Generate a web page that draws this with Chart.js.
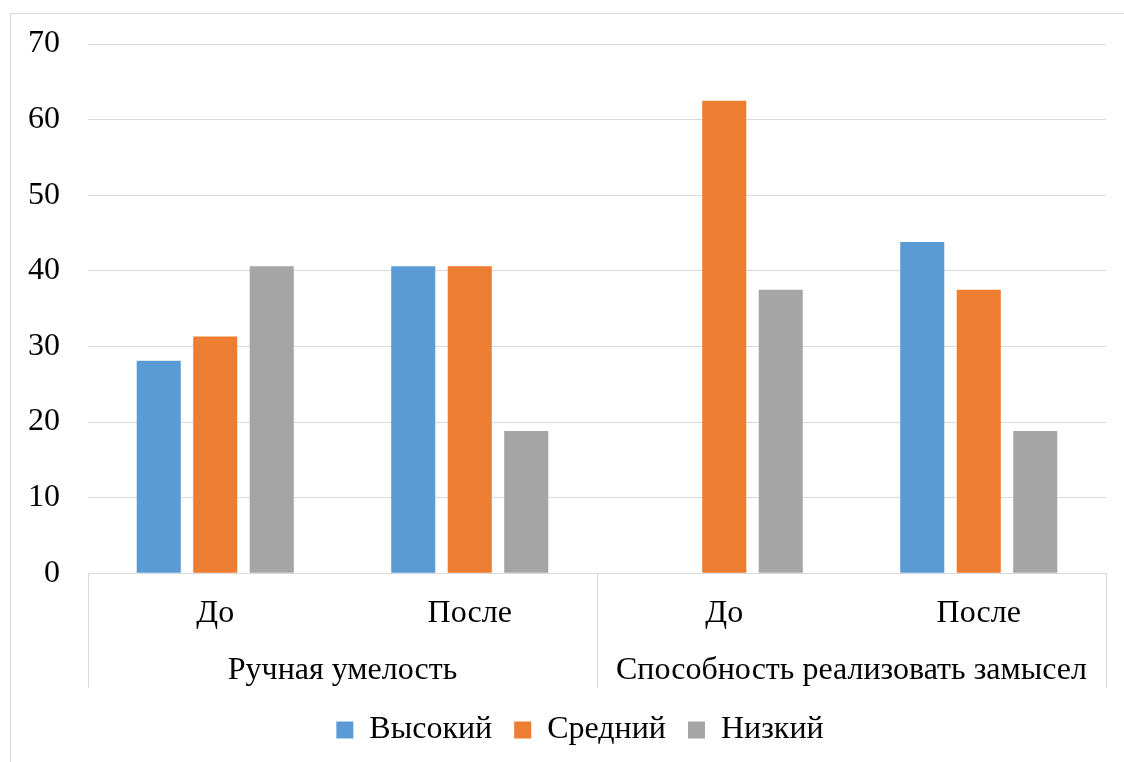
<!DOCTYPE html>
<html>
<head>
<meta charset="utf-8">
<script src="https://cdn.jsdelivr.net/npm/chart.js@4.4.1/dist/chart.umd.min.js"></script>
<style>
  html, body { margin: 0; padding: 0; background: #fff; }
  #wrap { position: relative; width: 1124px; height: 762px; overflow: hidden; }
  #frame { position: absolute; left: 10px; top: 13px; width: 1200px; height: 800px;
           border-top: 1px solid #d9d9d9; border-left: 1px solid #d9d9d9; }
  canvas { position: absolute; left: 0; top: 0; }
</style>
</head>
<body>
<div id="wrap">
  <div id="frame"></div>
  <canvas id="myBarChart" width="1124" height="762"></canvas>
</div>
<script>
// данные с диаграммы
const subLabels = ['До', 'После', 'До', 'После'];
const groupLabels = ['Ручная умелость', 'Способность реализовать замысел'];
const seriesNames = ['Высокий', 'Средний', 'Низкий'];
const vysokiy = [28.1, 40.6, 0, 43.8];
const sredniy = [31.3, 40.6, 62.5, 37.5];
const nizkiy = [40.6, 18.8, 37.5, 18.8];
const colors = ['#5B9BD5', '#ED7D31', '#A5A5A5'];
const yTicks = [0, 10, 20, 30, 40, 50, 60, 70];

const FONT = "'Liberation Serif', 'Times New Roman', 'DejaVu Serif', serif";
const fnt = { family: FONT, size: 32 };
const LEGEND_GAP = 4;
const LEGEND_SHIFT = 27;

// линии-разделители групп под осью
const groupSeparators = {
    id: 'groupSeparators',
    afterLayout(chart) {
        // легенда в оригинале чуть правее центра
        chart.legend.left += LEGEND_SHIFT;
        chart.legend.right += LEGEND_SHIFT;
    },
    afterDraw(chart) {
        const x = chart.scales.x;
        const x2 = chart.scales.x2;
        const ctx = chart.ctx;
        const step = (x.right - x.left) / subLabels.length;
        const xs = [x.left, x.left + step * 2, x.right];
        ctx.save();
        ctx.strokeStyle = '#d9d9d9';
        ctx.lineWidth = 1;
        xs.forEach(function (px) {
            const p = Math.round(px) + 0.5;
            ctx.beginPath();
            ctx.moveTo(p, chart.chartArea.bottom);
            ctx.lineTo(p, x2.bottom - LEGEND_GAP);
            ctx.stroke();
        });
        ctx.restore();
    }
};

function initBarChart() {
    const ctx = document.getElementById('myBarChart');
    Chart.defaults.font.family = FONT;
    new Chart(ctx, {
        type: 'bar',
        data: {
            labels: subLabels,
            datasets: [
                { label: seriesNames[0], data: vysokiy, backgroundColor: colors[0] },
                { label: seriesNames[1], data: sredniy, backgroundColor: colors[1] },
                { label: seriesNames[2], data: nizkiy, backgroundColor: colors[2] }
            ]
        },
        options: {
            responsive: false,
            animation: false,
            devicePixelRatio: 1,
            categoryPercentage: 0.666,
            barPercentage: 0.78,
            layout: { padding: { top: 20, right: 18, left: 0, bottom: 6 } },
            scales: {
                y: {
                    min: 0,
                    max: 70,
                    afterBuildTicks: function (axis) {
                        axis.ticks = yTicks.map(function (v) { return { value: v }; });
                    },
                    grid: { color: '#d9d9d9', drawTicks: false },
                    border: { display: false },
                    ticks: { color: '#000', padding: 28, font: { family: FONT, size: 32, lineHeight: 1.0 } }
                },
                x: {
                    grid: { display: false },
                    border: { display: true, color: '#d9d9d9' },
                    ticks: { color: '#000', padding: 13, font: fnt }
                },
                x2: {
                    type: 'category',
                    labels: groupLabels,
                    position: 'bottom',
                    offset: true,
                    grid: { display: false },
                    border: { display: false },
                    ticks: { color: '#000', padding: -2, font: fnt },
                    afterFit: function (scale) { scale.height += LEGEND_GAP; }
                }
            },
            plugins: {
                legend: {
                    position: 'bottom',
                    labels: {
                        color: '#000',
                        boxWidth: 17,
                        boxHeight: 17,
                        padding: 22,
                        font: fnt
                    }
                },
                tooltip: { enabled: false }
            }
        },
        plugins: [groupSeparators]
    });
}

if (document.fonts && document.fonts.load) {
    document.fonts.load('32px "Liberation Serif"', 'Ручная 0123').then(initBarChart, initBarChart);
} else {
    initBarChart();
}
</script>
</body>
</html>
